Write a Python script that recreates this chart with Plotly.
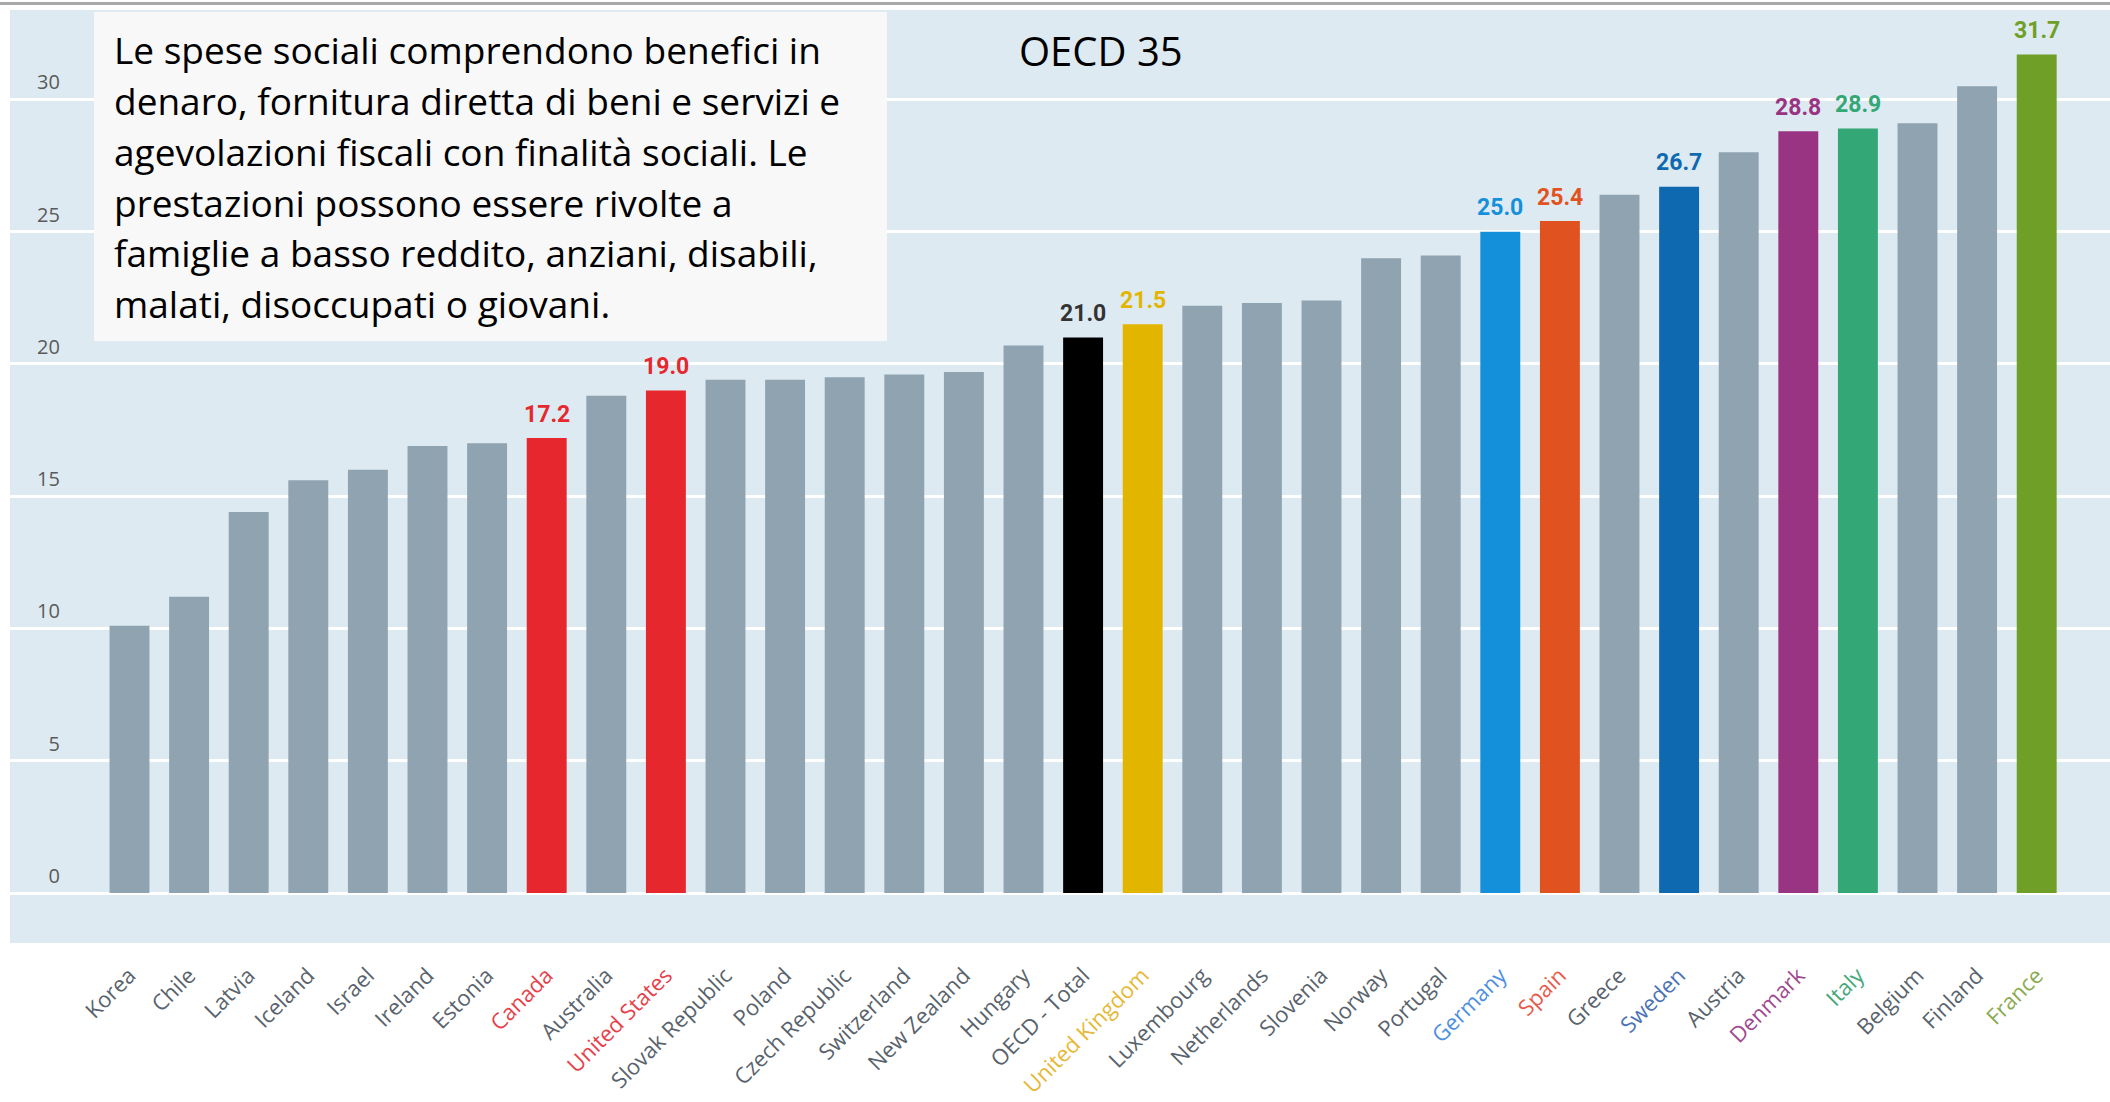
import plotly.graph_objects as go

# ---------------- data ----------------
countries = ["Korea", "Chile", "Latvia", "Iceland", "Israel", "Ireland", "Estonia",
             "Canada", "Australia", "United States", "Slovak Republic", "Poland",
             "Czech Republic", "Switzerland", "New Zealand", "Hungary", "OECD - Total",
             "United Kingdom", "Luxembourg", "Netherlands", "Slovenia", "Norway",
             "Portugal", "Germany", "Spain", "Greece", "Sweden", "Austria", "Denmark",
             "Italy", "Belgium", "Finland", "France"]
values = [10.1, 11.2, 14.4, 15.6, 16.0, 16.9, 17.0,
          17.2, 18.8, 19.0, 19.4, 19.4,
          19.5, 19.6, 19.7, 20.7, 21.0,
          21.5, 22.2, 22.3, 22.4, 24.0,
          24.1, 25.0, 25.4, 26.4, 26.7, 28.0, 28.8,
          28.9, 29.1, 30.5, 31.7]
labelled = ["Canada", "United States", "OECD - Total", "United Kingdom", "Germany",
            "Spain", "Sweden", "Denmark", "Italy", "France"]
y_tickvals = [0, 5, 10, 15, 20, 25, 30]
y_ticktext = ["0", "5", "10", "15", "20", "25", "30"]
title_text = "OECD 35"
note_lines = ["Le spese sociali comprendono benefici in",
              "denaro, fornitura diretta di beni e servizi e",
              "agevolazioni fiscali con finalità sociali. Le",
              "prestazioni possono essere rivolte a",
              "famiglie a basso reddito, anziani, disabili,",
              "malati, disoccupati o giovani."]

# ---------------- styles ----------------
GREY = "#8FA3B0"
bar_color_map = {"Canada": "#E6282E", "United States": "#E6282E", "OECD - Total": "#000000",
                 "United Kingdom": "#E2B600", "Germany": "#1490DB", "Spain": "#E05321",
                 "Sweden": "#0F69B0", "Denmark": "#993482", "Italy": "#33A776",
                 "France": "#6F9F26"}
value_color_map = dict(bar_color_map, **{"OECD - Total": "#333333"})
tick_color_map = {"Canada": "#E8404A", "United States": "#E8404A",
                  "United Kingdom": "#E6B835", "Germany": "#4D8FE0", "Spain": "#E85A4A",
                  "Sweden": "#4C72B8", "Denmark": "#A04A90", "Italy": "#45A878",
                  "France": "#8AAA50"}
TICK_GREY = "#59636D"
BG = "#DEEAF2"

W, H = 2110, 1102
L_PLOT, R_PLOT, T_PLOT, B_PLOT = 10, 2110, 10, 943


def px_x(p):
    return (p - L_PLOT) / (R_PLOT - L_PLOT)


def px_y(p):
    return (B_PLOT - p) / (B_PLOT - T_PLOT)


bar_colors = [bar_color_map.get(c, GREY) for c in countries]
x_ticktext = ['<span style="color:%s">%s</span>' % (tick_color_map.get(c, TICK_GREY), c)
              for c in countries]
y_ticktext_padded = [("\u2007" * (2 - len(t))) + t for t in y_ticktext]

fig = go.Figure()
fig.add_trace(go.Bar(x=countries, y=values, marker=dict(color=bar_colors, line=dict(width=0)),
                     width=0.67, hoverinfo="skip", showlegend=False))

annotations = []
for c in labelled:
    i = countries.index(c)
    annotations.append(dict(x=c, y=values[i], xref="x", yref="y", text="%.1f" % values[i],
                            showarrow=False, yanchor="middle", yshift=24,
                            font=dict(family="Roboto, sans-serif", size=23,
                                      color=value_color_map[c], weight="bold")))

annotations.append(dict(x=px_x(1100.5), y=px_y(50.5), xref="paper", yref="paper",
                        text=title_text, showarrow=False, xanchor="center", yanchor="middle",
                        font=dict(family="Open Sans, sans-serif", size=40, color="#000000")))

line_centers = [49, 100, 151, 202, 253, 304]
for t, yc in zip(note_lines, line_centers):
    annotations.append(dict(x=px_x(112), y=px_y(yc), xref="paper", yref="paper", text=t,
                            showarrow=False, xanchor="left", yanchor="middle",
                            font=dict(family="Open Sans, sans-serif", size=37, color="#000000")))

shapes = [
    dict(type="rect", xref="paper", yref="paper", x0=px_x(94), x1=px_x(887),
         y0=px_y(341), y1=px_y(12), fillcolor="#F8F8F8", line=dict(width=0), layer="above"),
    dict(type="line", xref="paper", yref="paper", x0=px_x(0), x1=px_x(2110),
         y0=px_y(3.5), y1=px_y(3.5), line=dict(color="#A9A9A9", width=3), layer="above"),
]

fig.update_layout(
    width=W, height=H, autosize=False,
    margin=dict(l=L_PLOT, r=W - R_PLOT, t=T_PLOT, b=H - B_PLOT, pad=0),
    paper_bgcolor="#FFFFFF", plot_bgcolor=BG,
    bargap=0.33,
    annotations=annotations, shapes=shapes,
    xaxis=dict(type="category", range=[-2.005, 33.23], tickmode="array", tickvals=countries,
               ticktext=x_ticktext, tickangle=-45, ticks="outside", ticklen=10,
               tickcolor="rgba(0,0,0,0)", showgrid=False, zeroline=False, showline=False,
               tickfont=dict(family="Open Sans, sans-serif", size=22, color=TICK_GREY)),
    yaxis=dict(range=[-1.89, 33.38], tickmode="array", tickvals=y_tickvals,
               ticktext=y_ticktext_padded, ticklabelposition="inside", ticklabelshift=-17,
               ticklabelstandoff=24, showgrid=True, gridcolor="#FFFFFF", gridwidth=2.5,
               zeroline=False, showline=False, ticks="",
               tickfont=dict(family="Open Sans, sans-serif", size=20, color="#5A5A5A")),
)

fig.write_html("out.html")
